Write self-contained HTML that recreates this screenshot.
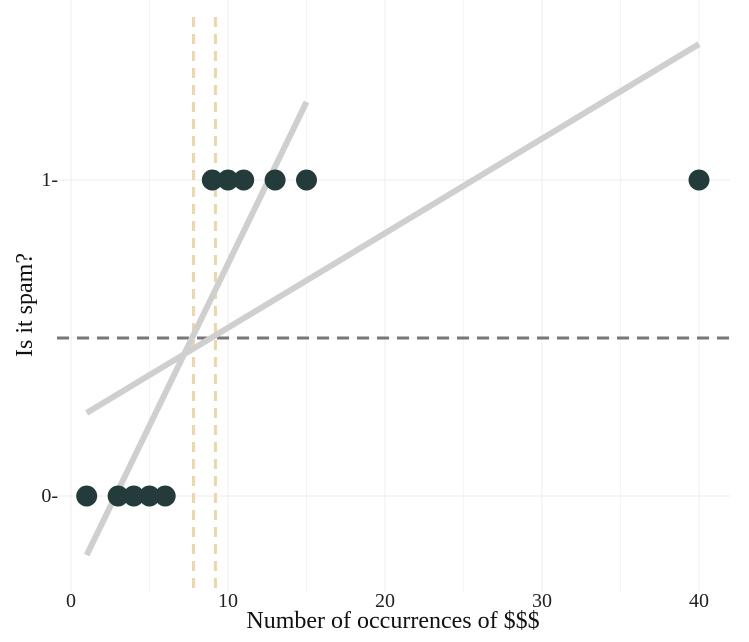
<!DOCTYPE html>
<html><head><meta charset="utf-8"><style>
body{margin:0;background:#fff;}
svg{display:block;font-family:"Liberation Serif",serif;}
</style></head><body>
<svg id="chart" width="749" height="642"></svg>
<script>
const xs0=[1,3,4,5,6];
const xs1=[9,10,11,13,15,40];
const xTicks=[0,10,20,30,40];
const yTicks=[0,1];
const fitLinear=[[1,0.263],[40,1.43]];
const fitSteep=[[1,-0.187],[15,1.247]];
const vCuts=[7.8,9.2];
const hCut=0.5;
const NS="http://www.w3.org/2000/svg";
const svg=document.getElementById('chart');
const X=v=>71+v*15.7, Y=v=>496-v*316;
function mk(t,a,p){const e=document.createElementNS(NS,t);for(const k in a)e.setAttribute(k,a[k]);(p||svg).appendChild(e);return e;}
const grid=mk('g',{});


[0,5,10,15,20,25,30,35,40].forEach(v=>mk('line',{x1:X(v),x2:X(v),y1:0,y2:592,stroke:'#ececec','stroke-width':v%10?0.6:1},grid));
[0,0.5,1].forEach(v=>mk('line',{x1:57,x2:730,y1:Y(v),y2:Y(v),stroke:'#ececec','stroke-width':v==0.5?0.6:1},grid));
xTicks.forEach(v=>{const t=mk('text',{x:X(v),y:607,'text-anchor':'middle','font-size':20,fill:'#222'});t.textContent=v;
});
yTicks.forEach(v=>{const t=mk('text',{x:58,y:Y(v)+6,'text-anchor':'end','font-size':20,fill:'#222'});t.textContent=v+'-';
});
vCuts.forEach(v=>{const l=mk('line',{x1:X(v),x2:X(v),y1:17,y2:592,stroke:'#f0d5a6','stroke-width':3,'stroke-dasharray':'10,7'});
});
const h=mk('line',{x1:57,x2:730,y1:Y(hCut),y2:Y(hCut),stroke:'#777','stroke-width':3,'stroke-dasharray':'12,8'});

[fitLinear,fitSteep].forEach((f,i)=>{const l=mk('line',{x1:X(f[0][0]),y1:Y(f[0][1]),x2:X(f[1][0]),y2:Y(f[1][1]),stroke:'#cfcfcf','stroke-width':6});
});
[[xs0,0],[xs1,1]].forEach(([arr,yv])=>arr.forEach(x=>{const c=mk('circle',{cx:X(x),cy:Y(yv),r:10.5,fill:'#243b3b'});
}));
const xl=mk('text',{x:393,y:628,'text-anchor':'middle','font-size':24,fill:'#111'});xl.textContent='Number of occurrences of $$$';

const yl=mk('text',{x:0,y:0,'text-anchor':'middle','font-size':24,fill:'#111',transform:'translate(32,305) rotate(-90)'});yl.textContent='Is it spam?';

</script>
</body></html>
